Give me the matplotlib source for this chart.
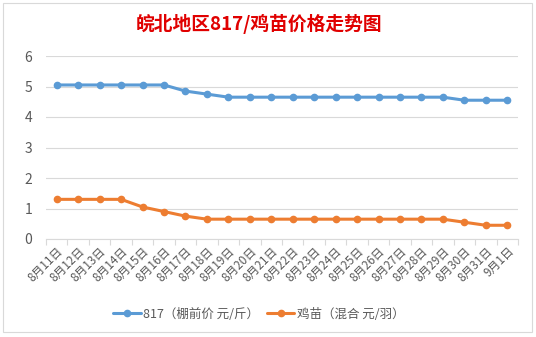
import numpy as np
import matplotlib
matplotlib.use('Agg')
import matplotlib.pyplot as plt
from matplotlib.patches import Rectangle

plt.rcParams['font.family'] = ['Noto Sans CJK SC', 'DejaVu Sans']

# Data
dates = ['8月11日', '8月12日', '8月13日', '8月14日', '8月15日', '8月16日', '8月17日',
         '8月18日', '8月19日', '8月20日', '8月21日', '8月22日', '8月23日', '8月24日',
         '8月25日', '8月26日', '8月27日', '8月28日', '8月29日', '8月30日', '8月31日', '9月1日']
price_817 = [5.05, 5.05, 5.05, 5.05, 5.05, 5.05, 4.85, 4.75, 4.65, 4.65, 4.65,
             4.65, 4.65, 4.65, 4.65, 4.65, 4.65, 4.65, 4.65, 4.55, 4.55, 4.55]
price_chick = [1.3, 1.3, 1.3, 1.3, 1.05, 0.9, 0.75, 0.65, 0.65, 0.65, 0.65,
               0.65, 0.65, 0.65, 0.65, 0.65, 0.65, 0.65, 0.65, 0.55, 0.45, 0.45]
series_names = ['817（棚前价 元/斤）', '鸡苗（混合 元/羽）']
series_colors = ['#5B9BD5', '#ED7D31']

W, H = 536, 337
fig = plt.figure(figsize=(W / 100, H / 100), dpi=100)

# chart area border
fig.patches.append(Rectangle((3 / W, 1 - 332 / H), 529 / W, 329 / H,
                             transform=fig.transFigure, fill=False,
                             edgecolor='#D9D9D9', linewidth=0.8))

ax = fig.add_axes([46 / W, 1 - 239 / H, 472 / W, 183 / H])
x = np.arange(len(dates))
for vals, name, color in zip([price_817, price_chick], series_names, series_colors):
    ax.plot(x, vals, color=color, linewidth=2.2, marker='o', markersize=4.5,
            label=name, solid_capstyle='round', solid_joinstyle='round')

ax.set_xlim(-0.5, len(dates) - 0.5)
ax.set_ylim(0, 6)
ax.set_yticks(range(0, 7))
ax.yaxis.grid(True, color='#D9D9D9', linewidth=0.8)
ax.set_axisbelow(True)
for s in ['left', 'right', 'top']:
    ax.spines[s].set_visible(False)
ax.spines['bottom'].set_color('#D9D9D9')
ax.spines['bottom'].set_linewidth(0.8)
ax.tick_params(axis='y', length=0, labelsize=10, labelcolor='#595959', pad=10)

# tick marks between categories, labels at categories
ax.set_xticks(np.arange(-0.5, len(dates), 1.0))
ax.set_xticklabels([])
ax.tick_params(axis='x', which='major', length=4, color='#D9D9D9', width=0.8)
ax.set_xticks(x, minor=True)
ax.set_xticklabels(dates, minor=True, rotation=45, ha='right', va='top',
                   rotation_mode='anchor', fontsize=8.5, color='#595959')
ax.tick_params(axis='x', which='minor', length=0, pad=4)

fig.text(259.5 / W, 1 - 24 / H, '皖北地区817/鸡苗价格走势图', ha='center', va='center',
         fontsize=13.5, fontweight='bold', color='#E00000')

fig.legend(loc='center', bbox_to_anchor=(259 / W, 1 - 314 / H), ncol=2, frameon=False,
           fontsize=9, labelcolor='#595959', handlelength=2.2, columnspacing=0.6,
           handletextpad=0.2)

fig.savefig('out.png', dpi=100)
